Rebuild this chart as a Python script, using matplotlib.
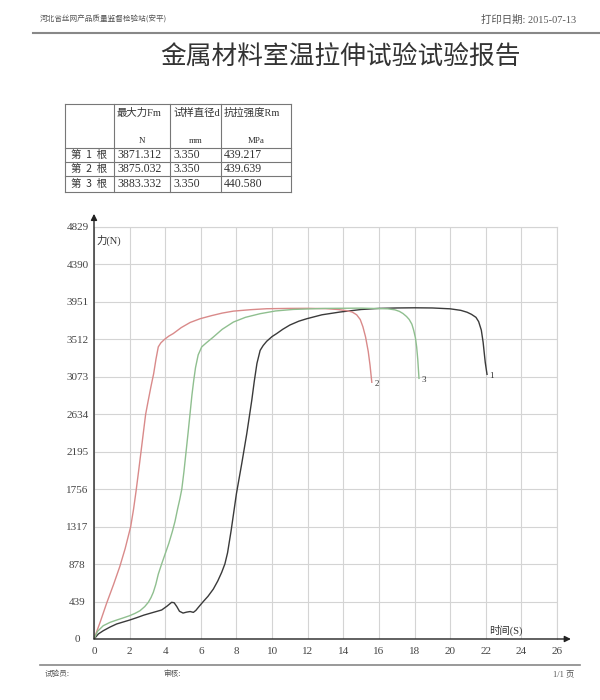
import matplotlib.pyplot as plt
from matplotlib.lines import Line2D

CJK = ['Noto Sans CJK SC', 'DejaVu Sans']
SERIF = ['Liberation Serif', 'Noto Sans CJK SC']

# report table
row_names = ['第  1  根', '第  2  根', '第  3  根']
fm_values = ['3871.312', '3875.032', '3883.332']
d_values = ['3.350', '3.350', '3.350']
rm_values = ['439.217', '439.639', '440.580']
col_heads = ['最大力Fm', '试样直径d', '抗拉强度Rm']
col_units = ['N', 'mm', 'MPa']

# force-time curves (s, N)
t1 = [0, 0.25, 0.52, 0.9, 1.27, 1.65, 2.0, 2.4, 2.8, 3.33, 3.8, 4.1, 4.36, 4.5,
      4.65, 4.8, 5.0, 5.2, 5.4, 5.58, 5.72, 5.86, 6.14, 6.4, 6.7, 6.95, 7.17, 7.35,
      7.5, 7.7, 8.0, 8.3, 8.58, 8.86, 9.0, 9.15, 9.33, 9.5, 9.7, 10.0, 10.26, 10.6,
      11.0, 11.5, 11.95, 12.8, 13.8, 15, 16, 17, 18, 19, 20, 20.6, 20.95, 21.2,
      21.45, 21.6, 21.75, 21.85, 21.97, 22.07]
f1 = [0, 60, 97, 140, 176, 200, 222, 250, 280, 312, 340, 385, 430, 425,
      380, 325, 304, 315, 322, 312, 335, 371, 440, 500, 585, 680, 781, 880,
      1010, 1270, 1706, 2060, 2408, 2798, 3020, 3230, 3383, 3440, 3490, 3545, 3580, 3630,
      3680, 3725, 3754, 3800, 3832, 3862, 3875, 3880, 3882, 3880, 3870, 3852, 3830, 3805,
      3770, 3720, 3620, 3480, 3243, 3102]

t2 = [0, 0.35, 0.71, 1.1, 1.45, 1.75, 2.06, 2.22, 2.36, 2.5, 2.64, 2.77, 2.9, 3.05,
      3.2, 3.35, 3.48, 3.61, 3.75, 3.95, 4.2, 4.45, 4.9, 5.4, 5.96, 6.6, 7.2, 7.83,
      8.8, 9.7, 11, 12, 13, 13.7, 14.2, 14.5, 14.75, 14.95, 15.1, 15.25, 15.4, 15.5,
      15.6]
f2 = [0, 200, 420, 640, 850, 1060, 1317, 1520, 1730, 1960, 2195, 2415, 2634, 2800,
      2960, 3110, 3280, 3424, 3470, 3510, 3550, 3580, 3650, 3710, 3754, 3790, 3820, 3843,
      3860, 3871, 3875, 3876, 3872, 3862, 3848, 3832, 3800, 3745, 3660, 3540, 3370, 3210,
      3009]

t3 = [0, 0.2, 0.52, 0.9, 1.27, 1.65, 2.0, 2.3, 2.58, 2.85, 3.05, 3.2, 3.33, 3.47,
      3.61, 3.8, 4.0, 4.2, 4.4, 4.55, 4.7, 4.82, 4.93, 5.05, 5.17, 5.28, 5.39, 5.5,
      5.6, 5.7, 5.85, 6.05, 6.3, 6.7, 7.2, 7.83, 8.5, 9.33, 10.2, 11.2, 13, 15,
      16.5, 16.9, 17.15, 17.35, 17.55, 17.7, 17.85, 17.95, 18.05, 18.12, 18.18, 18.22,
      18.25]
f3 = [0, 90, 156, 195, 222, 248, 273, 300, 331, 380, 430, 485, 547, 640,
      760, 880, 1000, 1120, 1260, 1380, 1530, 1640, 1756, 1960, 2195, 2410, 2634, 2860,
      3030, 3180, 3330, 3424, 3470, 3539, 3630, 3715, 3770, 3813, 3845, 3863, 3875, 3878,
      3870, 3858, 3840, 3815, 3780, 3745, 3690, 3620, 3530, 3420, 3280, 3150,
      3055]

curves = [(t1, f1, '#3a3a3a', '1'), (t2, f2, '#d98a8a', '2'), (t3, f3, '#8fbf8f', '3')]
y_ticks = [0, 439, 878, 1317, 1756, 2195, 2634, 3073, 3512, 3951, 4390, 4829]
x_ticks = list(range(0, 28, 2))

W, H = 600, 700
fig = plt.figure(figsize=(6, 7), dpi=100)


def fx(x):
    return x / W


def fy(y):
    return 1 - y / H


def hline(x0, x1, y, **kw):
    fig.add_artist(Line2D([fx(x0), fx(x1)], [fy(y), fy(y)], **kw))


def vline(x, y0, y1, **kw):
    fig.add_artist(Line2D([fx(x), fx(x)], [fy(y0), fy(y1)], **kw))


# page header
fig.text(fx(40), fy(20), '河北省丝网产品质量监督检验站(安平)', family=CJK, fontsize=5.5,
         color='#555', va='center')
fig.text(fx(481), fy(20), '打印日期: 2015-07-13', family=SERIF, fontsize=7.5,
         color='#555', va='center')
hline(33, 600, 33, color='#888', lw=1.5)
fig.text(fx(340), fy(58), '金属材料室温拉伸试验试验报告', family=CJK, fontsize=18.5,
         color='#333', ha='center', va='center')

# table
tl, tr, tt, tb = 65, 291, 104, 192
cols = [tl, 114, 170, 221, tr]
rows = [148, 162, 176]
edges = [tt] + rows + [tb]
lkw = dict(color='#777', lw=0.8)
for x in cols:
    vline(x, tt, tb, **lkw)
for y in edges:
    hline(tl, tr, y, **lkw)
for i, (head, unit) in enumerate(zip(col_heads, col_units)):
    fig.text(fx(cols[i + 1] + 3), fy(113), head, family=SERIF, fontsize=7.5,
             color='#333', va='center')
    fig.text(fx((cols[i + 1] + cols[i + 2]) / 2), fy(141), unit, family=SERIF,
             fontsize=6.5, color='#333', ha='center', va='center')
for r, vals in enumerate(zip(row_names, fm_values, d_values, rm_values)):
    yc = (edges[r + 1] + edges[r + 2]) / 2
    fig.text(fx(89), fy(yc), vals[0], family=CJK, fontsize=7.5, color='#333',
             ha='center', va='center')
    for c in range(1, 4):
        fig.text(fx(cols[c] + 3), fy(yc), vals[c], family=SERIF, fontsize=8.5,
                 color='#333', va='center')

# chart
ax = fig.add_axes([fx(94), fy(639), (557 - 94) / W, (639 - 227) / H])
for t, f, col, lab in curves:
    ax.plot(t, f, color=col, lw=1)
    ax.text(t[-1] + 0.15, f[-1] - 20, lab, family=SERIF, fontsize=6.5, color='#333',
            ha='left', va='center')
ax.set_xlim(0, 26)
ax.set_ylim(0, 4829)
ax.set_xticks(x_ticks)
ax.set_yticks(y_ticks)
ax.set_xticklabels([str(v) for v in x_ticks], family=SERIF, fontsize=8, color='#444')
ax.set_yticklabels([str(v) for v in y_ticks], family=SERIF, fontsize=8, color='#444',
                   ha='center')
ax.tick_params(axis='y', length=0, pad=12)
ax.tick_params(axis='x', length=0, pad=6)
ax.grid(True, color='#d4d4d4', lw=0.8)
ax.set_axisbelow(True)
for s in ['left', 'bottom']:
    ax.spines[s].set_visible(False)
for s in ['top', 'right']:
    ax.spines[s].set_color('#d4d4d4')
    ax.spines[s].set_linewidth(0.8)
arrow = dict(arrowstyle='-|>', color='#222', lw=1, mutation_scale=9, shrinkA=0, shrinkB=0)
ax.annotate('', xy=(0, 1.032), xytext=(0, 0), xycoords='axes fraction',
            arrowprops=arrow, annotation_clip=False)
ax.annotate('', xy=(1.03, 0), xytext=(0, 0), xycoords='axes fraction',
            arrowprops=arrow, annotation_clip=False)
ax.text(0.15, 4671, '力(N)', family=SERIF, fontsize=7.5, color='#333', va='center')
ax.text(23.1, 105, '时间(S)', family=SERIF, fontsize=7.5, color='#333', ha='center',
        va='center')

# footer
hline(40, 580, 665, color='#888', lw=1.2)
fig.text(fx(45), fy(674), '试验员:', family=CJK, fontsize=5.5, color='#555', va='center')
fig.text(fx(163), fy(674), '审核:', family=CJK, fontsize=5.5, color='#555', va='center')
fig.text(fx(553), fy(674), '1/1 页', family=SERIF, fontsize=6, color='#555', va='center')

fig.savefig('out.png', dpi=100)
